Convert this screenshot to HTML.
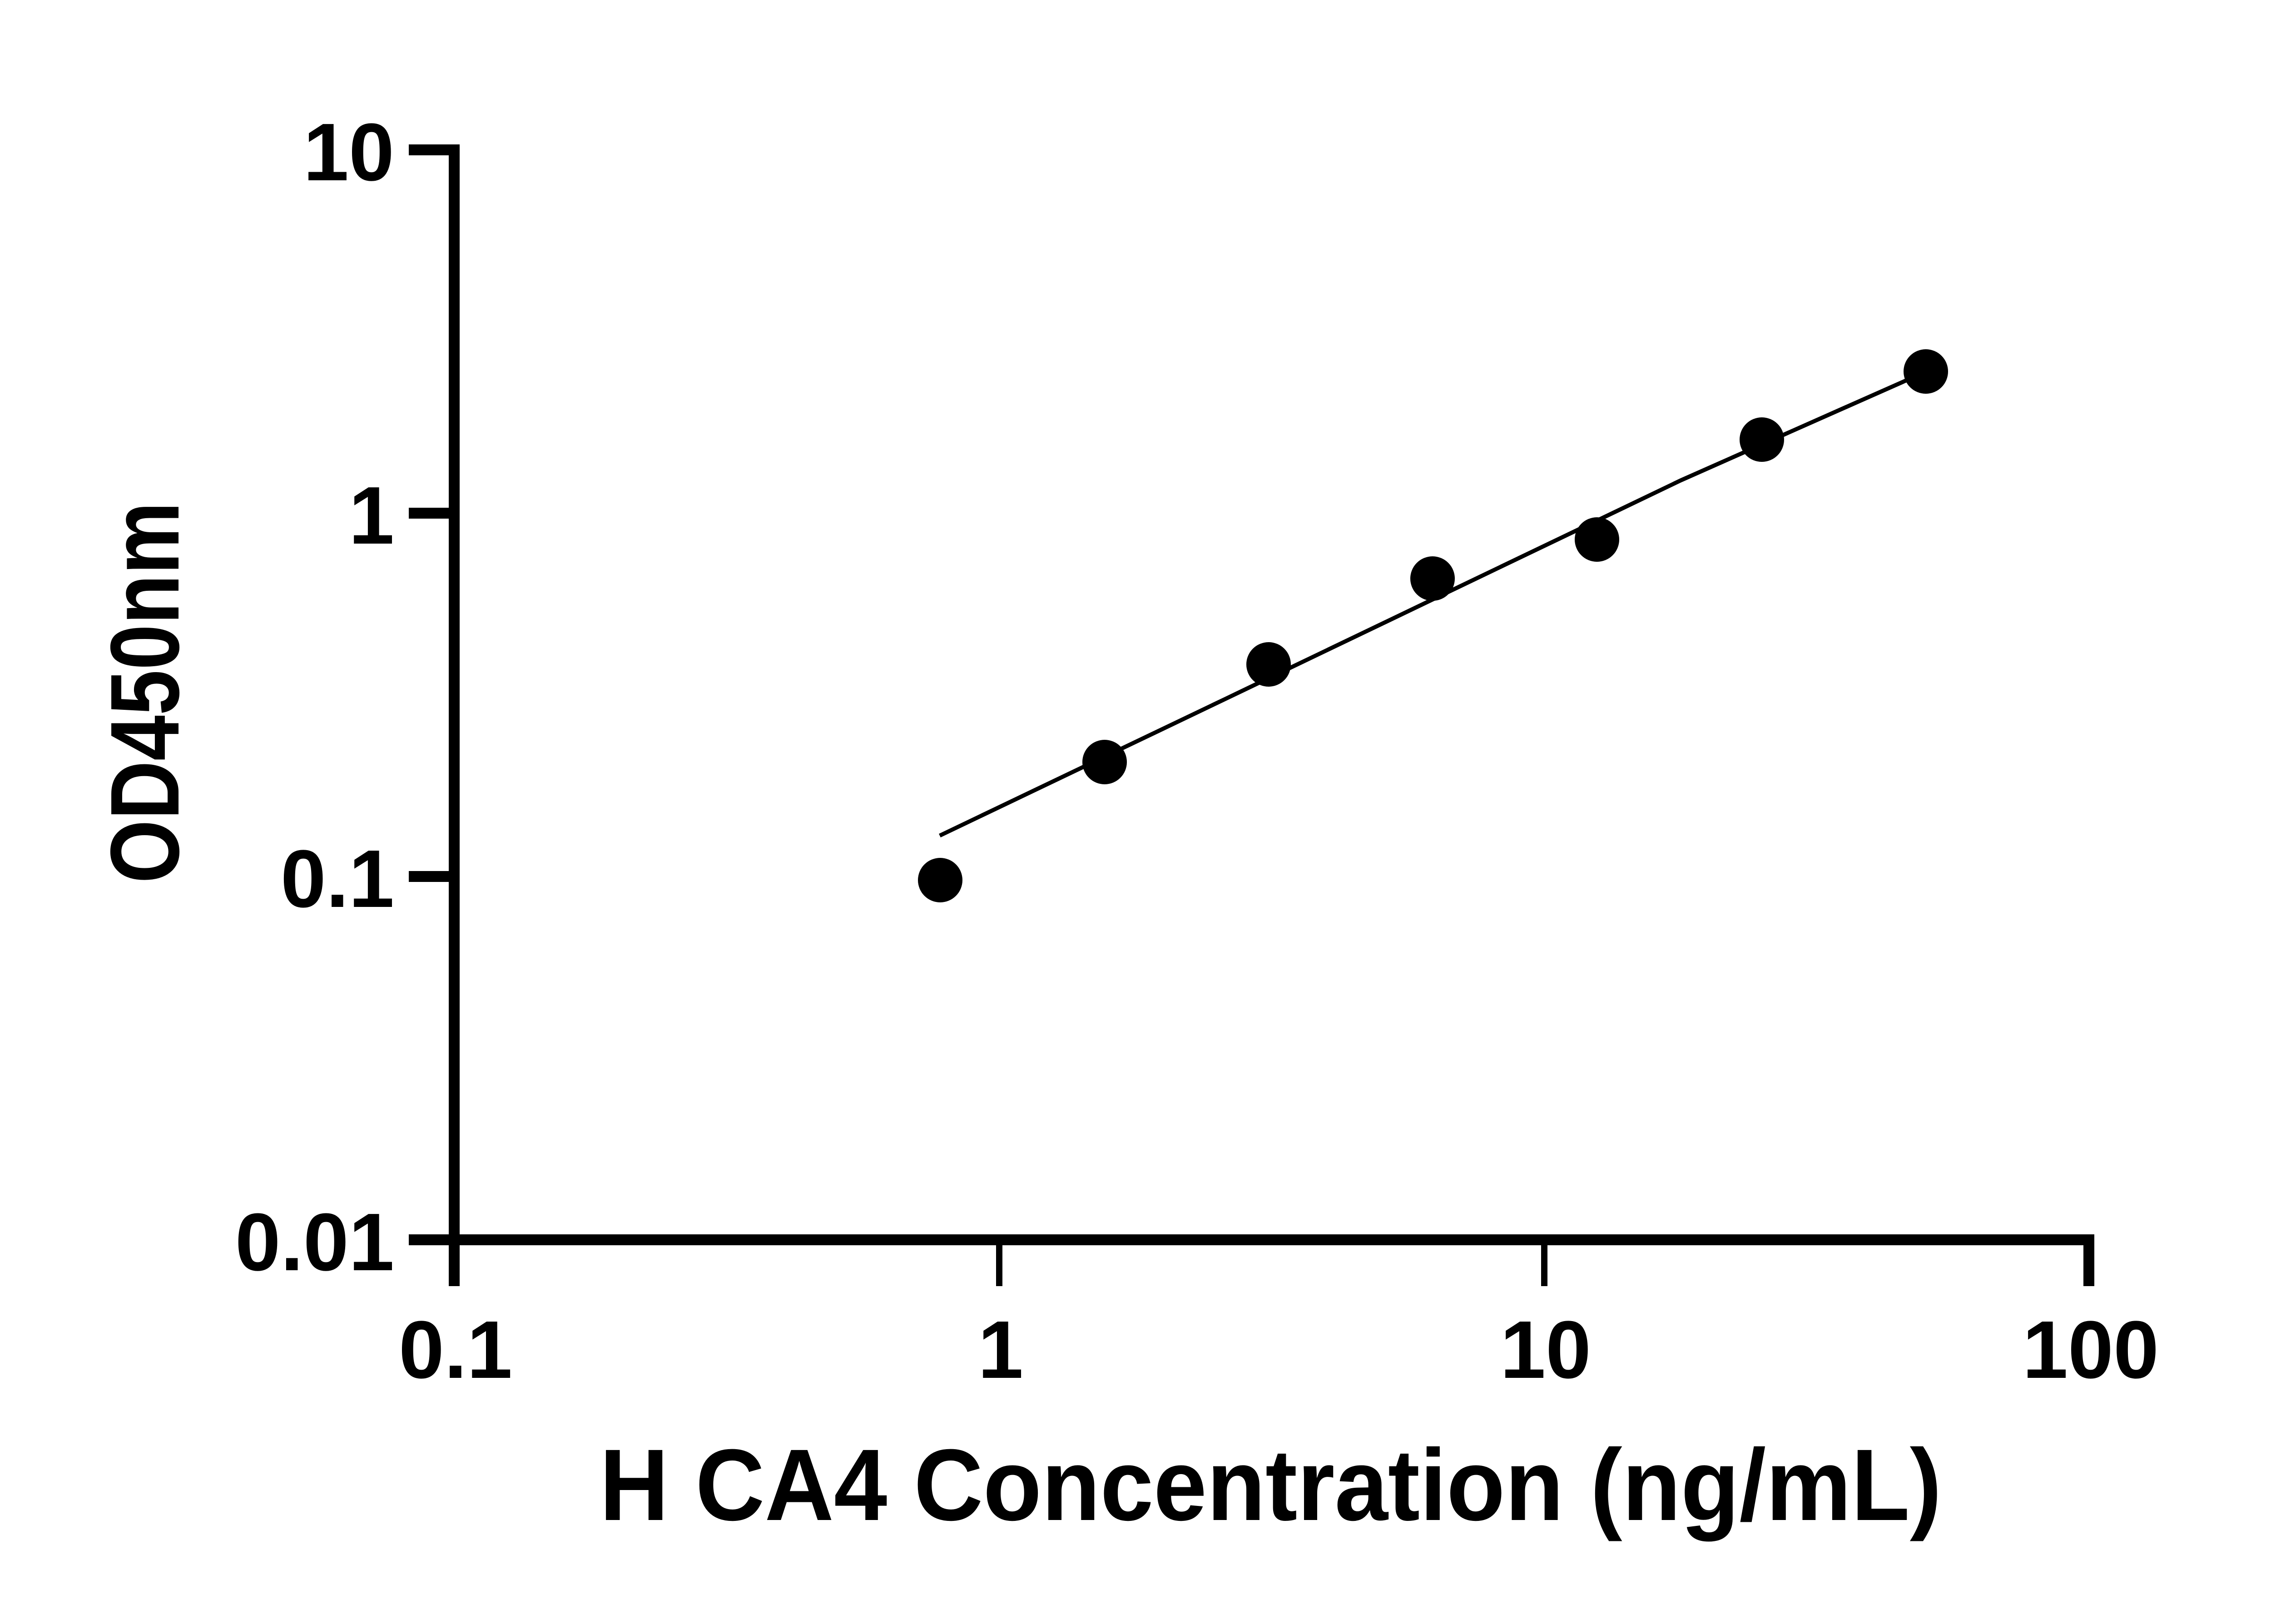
<!DOCTYPE html>
<html><head><meta charset="utf-8"><style>
html,body{margin:0;padding:0;background:#fff;}
svg{display:block;}
text{font-family:"Liberation Sans",Arial,sans-serif;font-weight:bold;fill:#000;}
</style></head><body>
<svg width="5170" height="3576" viewBox="0 0 5170 3576" xmlns="http://www.w3.org/2000/svg">
<rect width="5170" height="3576" fill="#fff"/>
<g stroke="#000" fill="none">
<line x1="1000" y1="318" x2="1000" y2="2832" stroke-width="24"/>
<line x1="900" y1="2730" x2="4611" y2="2730" stroke-width="24"/>
<line x1="900" y1="330" x2="1012" y2="330" stroke-width="24"/>
<line x1="900" y1="1130" x2="1012" y2="1130" stroke-width="24"/>
<line x1="900" y1="1930" x2="1012" y2="1930" stroke-width="24"/>
<line x1="2200" y1="2730" x2="2200" y2="2832" stroke-width="14"/>
<line x1="3400" y1="2730" x2="3400" y2="2832" stroke-width="14"/>
<line x1="4599" y1="2718" x2="4599" y2="2832" stroke-width="24"/>
<polyline points="2069,1840 2700,1538 3700,1058 4205,834" stroke-width="9"/>
</g>
<g fill="#000">
<circle cx="2070" cy="1938" r="49"/>
<circle cx="2432" cy="1678" r="49"/>
<circle cx="2793" cy="1463" r="49"/>
<circle cx="3154" cy="1274" r="49"/>
<circle cx="3516" cy="1188" r="49"/>
<circle cx="3879" cy="968" r="49"/>
<circle cx="4240" cy="818" r="49"/>
</g>
<g font-size="180" text-anchor="end">
<text x="868" y="397">10</text>
<text x="868" y="1197">1</text>
<text x="868" y="1997">0.1</text>
<text x="868" y="2797">0.01</text>
</g>
<g font-size="180" text-anchor="middle">
<text x="1003" y="3034">0.1</text>
<text x="2203" y="3034">1</text>
<text x="3403" y="3034">10</text>
<text x="4603" y="3034">100</text>
</g>
<text x="1320" y="3347" font-size="224" textLength="2955" lengthAdjust="spacingAndGlyphs">H CA4 Concentration (ng/mL)</text>
<text transform="translate(393,1945) rotate(-90)" x="0" y="0" font-size="215" textLength="840" lengthAdjust="spacingAndGlyphs">OD450nm</text>
</svg>
</body></html>
